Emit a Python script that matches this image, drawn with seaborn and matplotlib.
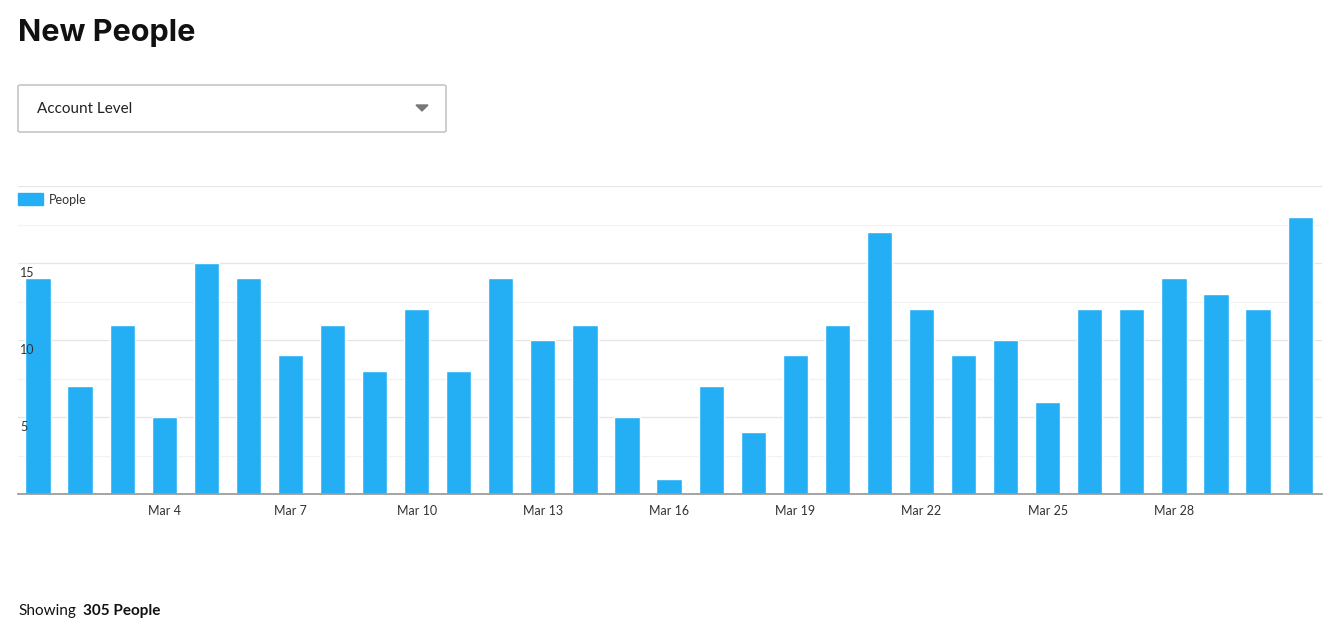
import matplotlib
matplotlib.use("Agg")
import matplotlib.pyplot as plt
import seaborn as sns
import pandas as pd
from matplotlib.patches import FancyBboxPatch, Rectangle, Polygon

days = [f"Mar {d}" for d in range(1, 32)]
people = [14, 7, 11, 5, 15, 14, 9, 11, 8, 12, 8, 14, 10, 11, 5, 1, 7, 4, 9, 11,
          17, 12, 9, 10, 6, 12, 12, 14, 13, 12, 18]
tick_days = ["Mar 4", "Mar 7", "Mar 10", "Mar 13", "Mar 16", "Mar 19", "Mar 22", "Mar 25", "Mar 28"]
total_label = "305 People"

sns.set_theme(style="white")
plt.rcParams['font.family'] = ['Lato', 'DejaVu Sans']

W, H = 1342, 639
fig = plt.figure(figsize=(W/100, H/100), dpi=100)
ax = fig.add_axes([18/W, 1-494/H, (1322-18)/W, (494-186)/H])

df = pd.DataFrame({"day": days, "people": people})
sns.barplot(data=df, x="day", y="people", order=days, color="#24aff5",
            saturation=1, width=0.6, ax=ax)
ax.set_xlim(-0.475, 30.52)
ax.set_ylim(0, 20)
for v in [2.5*i for i in range(1, 9)]:
    ax.axhline(v, color="#e6e6e6" if v % 5 == 0 else "#f2f2f2", lw=0.9, zorder=0)
ax.set_axisbelow(True)
for s in ["top", "right", "left"]:
    ax.spines[s].set_visible(False)
ax.spines["bottom"].set_color("#999999")
ax.set_xticks([days.index(t) for t in tick_days])
ax.set_xticklabels(tick_days, fontsize=9, color="#333333")
ax.tick_params(axis="x", length=0, pad=8)
ax.set_yticks([])
ax.set_xlabel("")
ax.set_ylabel("")
for v in [5, 10, 15]:
    ax.text(-0.42, v - 0.25, str(v), fontsize=9, color="#333333", va="top", ha="left", zorder=5)

fig.text(18/W, 1-33/H, "New People", fontsize=22, fontweight="bold", va="center", color="#111111",
         family=['Inter', 'DejaVu Sans'])
box = FancyBboxPatch((18/W, 1-132/H), (446-18)/W, (132-85)/H, boxstyle="round,pad=0,rounding_size=0.002",
                     transform=fig.transFigure, fill=False, ec="#bbbbbb", lw=1)
fig.add_artist(box)
fig.text(37/W, 1-109/H, "Account Level", fontsize=11, va="center", color="#222222")
fig.add_artist(Polygon([(416/W, 1-105/H), (428/W, 1-105/H), (422/W, 1-111/H)],
                       closed=True, transform=fig.transFigure, color="#777777"))
fig.add_artist(Rectangle((18/W, 1-205/H), 25/W, 12/H, transform=fig.transFigure, color="#24aff5"))
fig.text(49/W, 1-200/H, "People", fontsize=9, va="center", color="#333333")
fig.text(18/W, 1-611/H, "Showing", fontsize=11, va="center", color="#111111")
fig.text(83/W, 1-611/H, total_label, fontsize=11, va="center", fontweight="bold", color="#111111")

fig.savefig("out.png", dpi=100)
